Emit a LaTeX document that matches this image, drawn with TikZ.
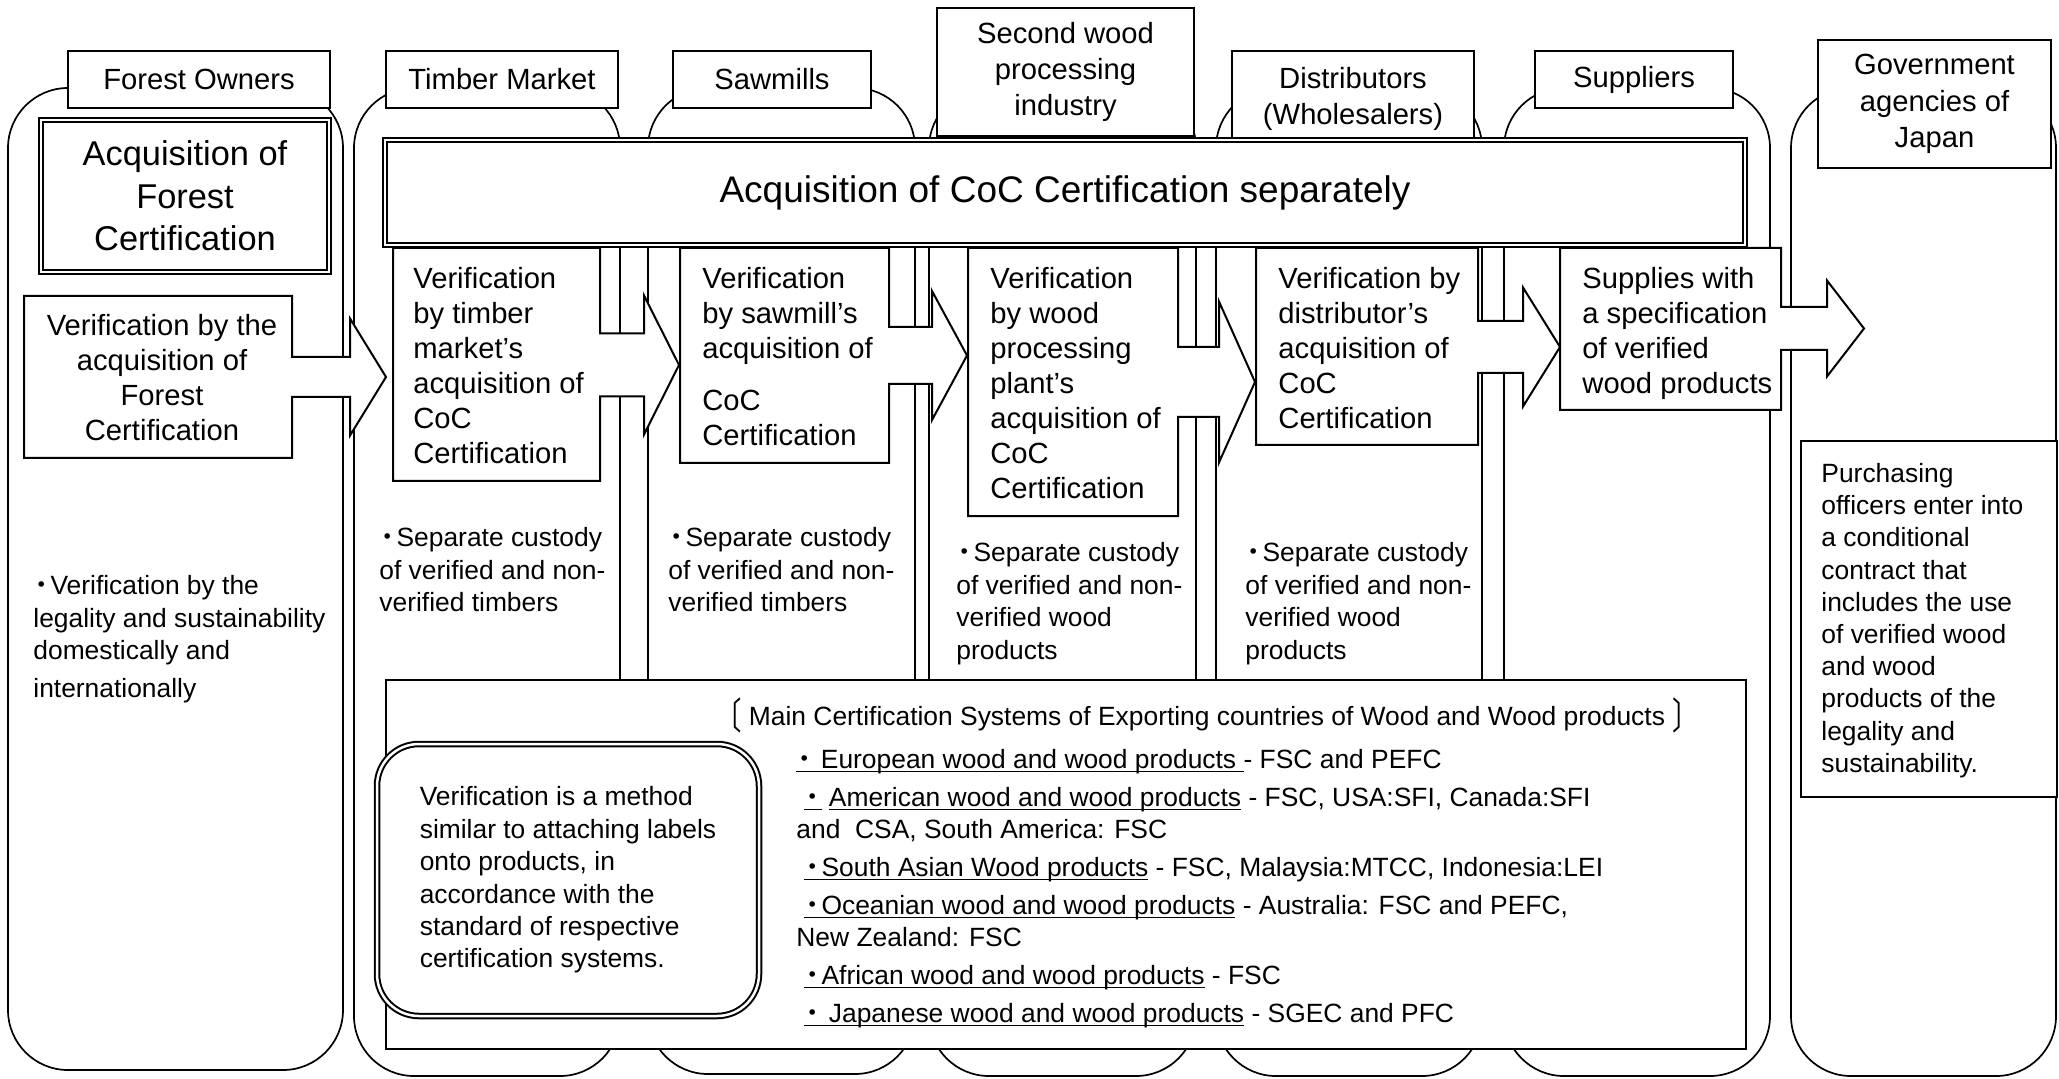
\documentclass[tikz,border=0pt]{standalone}
\usepackage{fontspec}
\setmainfont{Liberation Sans}
\newfontfamily\cjk{Noto Sans CJK JP}
\newsavebox{\ulnbox}
\newcommand{\uln}[1]{\sbox{\ulnbox}{#1}\rlap{\rule[-1.6pt]{\wd\ulnbox}{0.6pt}}\usebox{\ulnbox}}
\newcommand{\bul}{\makebox[0.65em]{\cjk ・}}
\newcommand{\lbr}{\raisebox{-0.15em}{\scalebox{1}[1.4]{\cjk 〔}}}
\newcommand{\rbr}{\raisebox{-0.15em}{\scalebox{1}[1.4]{\cjk 〕}}}
\newcommand{\arrowbox}[9]{\draw [cbox] (#1, #2) -- (#3, #2) -- (#3, #7-#8) -- (#5, #7-#8) -- (#5, #7-#9) -- (#6, #7) -- (#5, #7+#9) -- (#5, #7+#8) -- (#3, #7+#8) -- (#3, #4) -- (#1, #4) -- cycle;}

\begin{document}
\begin{tikzpicture}[x = 0.5pt, y = -0.5pt,
                      lane/.style = {draw, fill = white, line width = 0.85pt, rounded corners = 30pt},
                      actor/.style = {draw, fill = white, line width = 1pt, anchor = north west, align = center, inner sep = 0pt, font = \fontsize{14.6}{18.2}\selectfont},
                      twin/.style = {draw, double, double distance = 1.25pt, line width = 1pt, fill = white, align = center, inner sep = 0pt},
                      frame/.style = {draw, fill = white, line width = 1pt, anchor = north west, inner sep = 0pt},
                      cbox/.style = {draw, fill = white, line width = 1pt, line join = miter},
                      ctext/.style = {anchor = north west, align = left, inner sep = 0pt, font = \fontsize{14.6}{17.5}\selectfont},
                      btext/.style = {anchor = north west, align = left, inner sep = 0pt, font = \fontsize{13.2}{16.25}\selectfont}]
    \useasboundingbox (0, 0) rectangle (2059, 1079);
    \draw [lane] (8, 88) rectangle (343, 1070);
    \draw [lane] (354, 88) rectangle (620, 1076);
    \draw [lane] (648, 88) rectangle (915, 1074);
    \draw [lane] (929, 88) rectangle (1196, 1076);
    \draw [lane] (1216, 88) rectangle (1482, 1076);
    \draw [lane] (1504, 88) rectangle (1770, 1076);
    \draw [lane] (1791, 88) rectangle (2056, 1076);
    \node [actor, minimum width = 131pt, minimum height = 28.5pt] (owners) at (67, 50) {Forest Owners};
    \node [actor, minimum width = 116pt, minimum height = 28.5pt] (market) at (385, 50) {Timber Market};
    \node [actor, minimum width = 99pt, minimum height = 28.5pt] (mills) at (672, 50) {Sawmills};
    \node [actor, minimum width = 128.5pt, minimum height = 64pt] (second) at (936, 7) {Second wood\\processing\\industry};
    \node [actor, minimum width = 121pt, minimum height = 48pt] (dist) at (1231, 50) {Distributors\\(Wholesalers)};
    \node [actor, minimum width = 99pt, minimum height = 28.5pt] (supp) at (1534, 50) {Suppliers};
    \node [actor, minimum width = 116.5pt, minimum height = 64pt] (gov) at (1817, 39) {Government\\agencies of\\Japan};
    \node [twin, minimum width = 144pt, minimum height = 76pt, font = \fontsize{17.2}{21.25}\selectfont] (forestcert) at (185, 196) {Acquisition of\\Forest\\Certification};
    \node [twin, minimum width = 680pt, minimum height = 52.5pt, font = \fontsize{18.5}{22}\selectfont] (coc) at (1065, 192.5) {Acquisition of CoC Certification separately};
    \arrowbox{24}{296}{292}{458}{350}{386}{377}{20}{58.5}
    \node [ctext, anchor = center, align = center] (fverif) at (162, 378) {Verification by the\\acquisition of\\Forest\\Certification};
    \arrowbox{393}{248}{600}{481}{644}{679}{365}{31.5}{69.5}
    \node [ctext] (tverif) at (413, 267) {Verification\\by timber\\market’s\\acquisition of\\CoC\\Certification};
    \arrowbox{680}{248}{889}{463}{932}{967}{355.5}{28.5}{64.5}
    \node [ctext] (sverif) at (702, 267) {Verification\\by sawmill’s\\acquisition of\\[8.5pt]CoC\\Certification};
    \arrowbox{968}{248}{1178}{516}{1219}{1255}{382}{35}{80.5}
    \node [ctext] (wverif) at (990, 267) {Verification\\by wood\\processing\\plant’s\\acquisition of\\CoC\\Certification};
    \arrowbox{1256}{248}{1478}{445}{1523}{1560}{347}{26}{59.5}
    \node [ctext] (dverif) at (1278, 267) {Verification by\\distributor’s\\acquisition of\\CoC\\Certification};
    \arrowbox{1560}{248}{1781}{410}{1827}{1864}{328.5}{21.5}{48}
    \node [ctext] (sverif2) at (1582, 267) {Supplies with\\a specification\\of verified\\wood products};
    \node [btext] (fcust) at (33, 575) {\bul Verification by the\\legality and sustainability\\domestically and\\[2.75pt]internationally};
    \node [btext] (tcust) at (379, 527) {\bul Separate custody\\of verified and non-\\verified timbers};
    \node [btext] (scust) at (668, 527) {\bul Separate custody\\of verified and non-\\verified timbers};
    \node [btext] (wcust) at (956, 542) {\bul Separate custody\\of verified and non-\\verified wood\\products};
    \node [btext] (dcust) at (1245, 542) {\bul Separate custody\\of verified and non-\\verified wood\\products};
    \node [frame, minimum width = 680pt, minimum height = 184.5pt] (systems) at (385, 679) {};
    \node [btext, anchor = center] (systitle) at (1207, 715) {\lbr\ Main Certification Systems of Exporting countries of Wood and Wood products \rbr};
    \node [twin, rounded corners = 21pt, minimum width = 191pt, minimum height = 136pt, align = left, font = \fontsize{13.2}{16.2}\selectfont] (method) at (568, 880) {Verification is a method\\similar to attaching labels\\onto products, in\\accordance with the\\standard of respective\\certification systems.};
    \node [btext, font = \fontsize{13.2}{16}\selectfont] (syslist) at (796, 749) {\uln{\bul\ European wood and wood products\ }- FSC and PEFC\\[3pt]
      \hspace*{4pt}\uln{\bul}\ \uln{American wood and wood products} - FSC, USA:SFI, Canada:SFI\\
      and\ \ CSA, South America: FSC\\[3pt]
      \hspace*{4pt}\uln{\bul South Asian Wood products} - FSC, Malaysia:MTCC, Indonesia:LEI\\[3pt]
      \hspace*{4pt}\uln{\bul Oceanian wood and wood products} - Australia: FSC and PEFC,\\
      New Zealand: FSC\\[3pt]
      \hspace*{4pt}\uln{\bul African wood and wood products} - FSC\\[3pt]
      \hspace*{4pt}\uln{\bul\ Japanese wood and wood products} - SGEC and PFC};
    \node [frame, minimum width = 128pt, minimum height = 178pt] (buyers) at (1800, 440) {};
    \node [btext, font = \fontsize{13.2}{16.1}\selectfont] (buyerstext) at (1821, 463) {Purchasing\\officers enter into\\a conditional\\contract that\\includes the use\\of verified wood\\and wood\\products of the\\legality and\\sustainability.};
\end{tikzpicture}
\end{document}
